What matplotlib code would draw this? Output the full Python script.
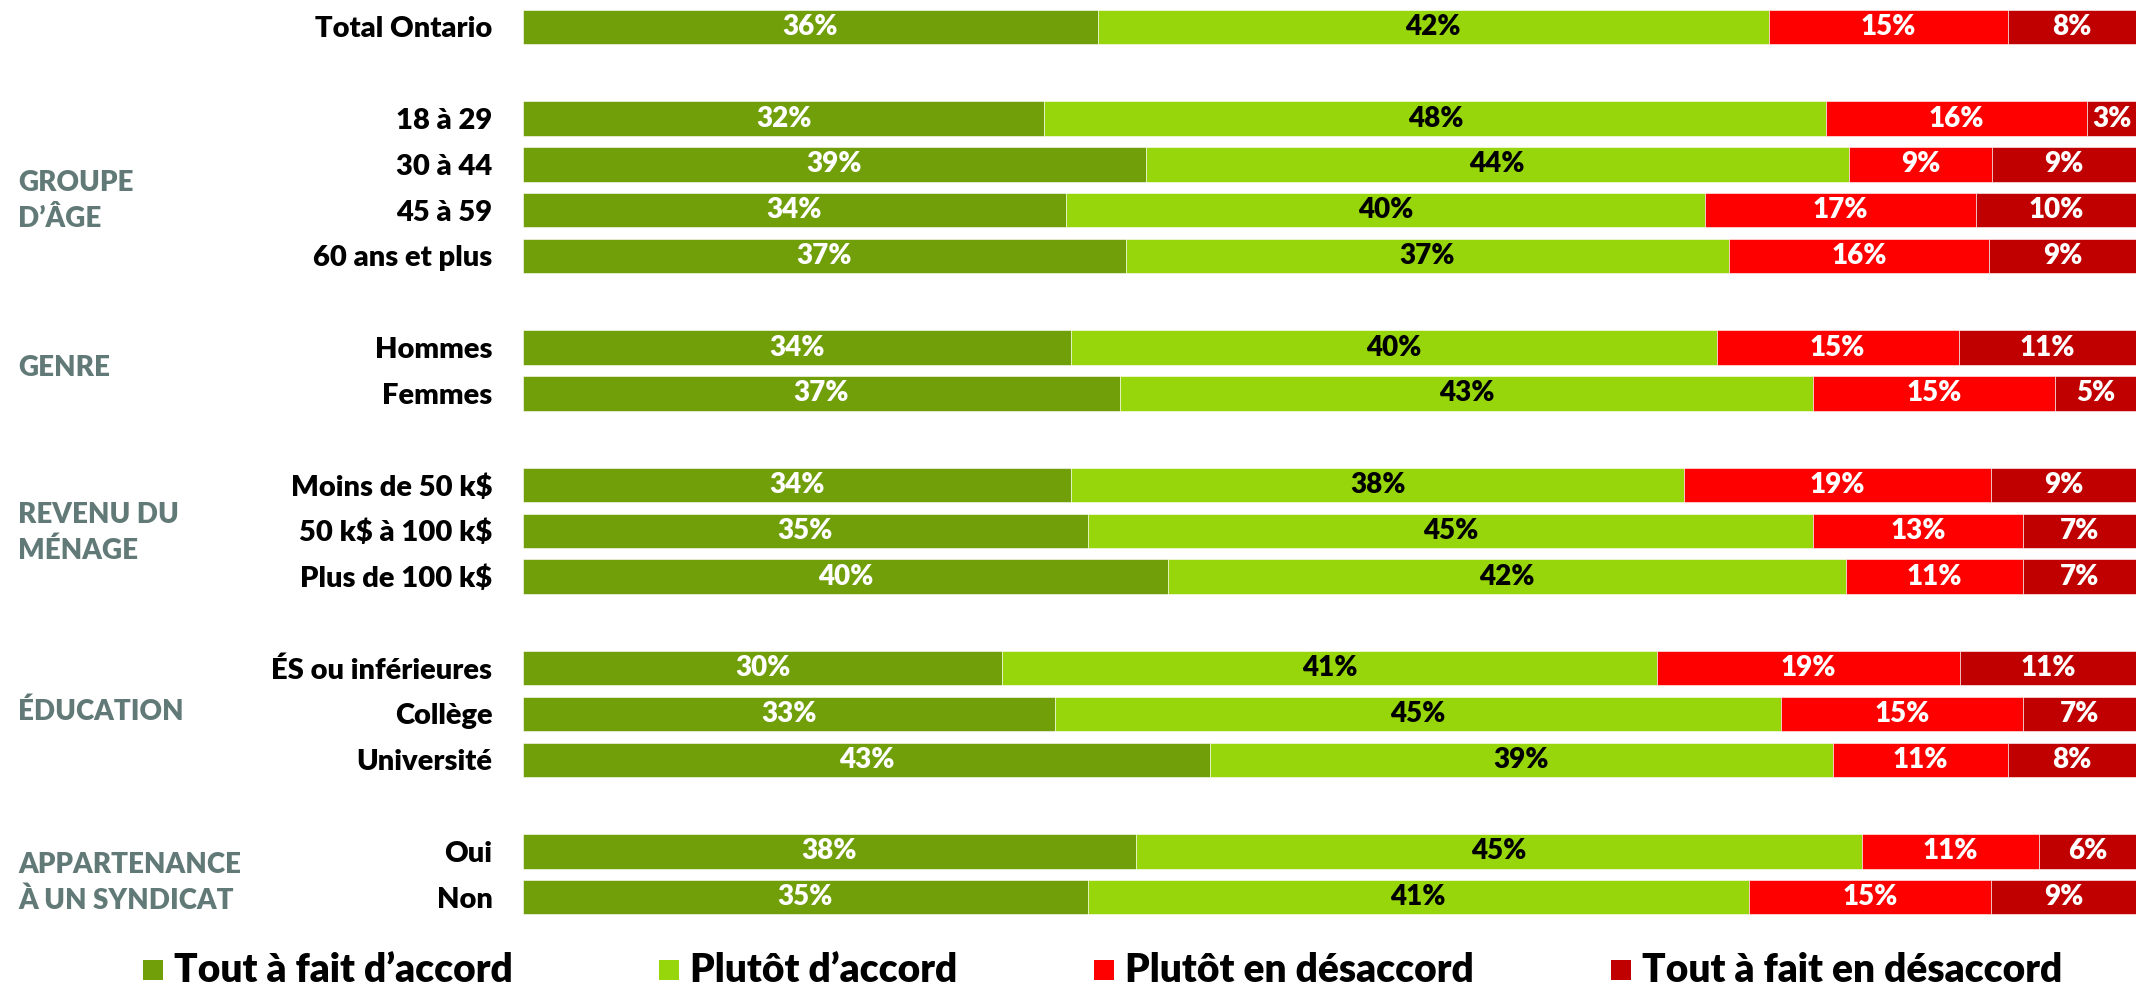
import numpy as np
import matplotlib.pyplot as plt
from matplotlib.patches import Rectangle
from matplotlib.transforms import blended_transform_factory

plt.rcParams['font.family'] = ['Lato', 'DejaVu Sans']
plt.rcParams['font.weight'] = 'heavy'
plt.rcParams['text.parse_math'] = False

# --- data ---
row_labels = ['Total Ontario',
              '18 à 29', '30 à 44', '45 à 59', '60 ans et plus',
              'Hommes', 'Femmes',
              'Moins de 50 k$', '50 k$ à 100 k$', 'Plus de 100 k$',
              'ÉS ou inférieures', 'Collège', 'Université',
              'Oui', 'Non']
group_sizes = [1, 4, 2, 3, 3, 2]
group_names = ['', 'GROUPE\nD’ÂGE', 'GENRE', 'REVENU DU\nMÉNAGE', 'ÉDUCATION',
               'APPARTENANCE\nÀ UN SYNDICAT']

tout_accord = [36, 32, 39, 34, 37, 34, 37, 34, 35, 40, 30, 33, 43, 38, 35]
plutot_accord = [42, 48, 44, 40, 37, 40, 43, 38, 45, 42, 41, 45, 39, 45, 41]
plutot_desaccord = [15, 16, 9, 17, 16, 15, 15, 19, 13, 11, 19, 15, 11, 11, 15]
tout_desaccord = [8, 3, 9, 10, 9, 11, 5, 9, 7, 7, 11, 7, 8, 6, 9]

series_names = ['Tout à fait d’accord', 'Plutôt d’accord',
                'Plutôt en désaccord', 'Tout à fait en désaccord']
colors = ['#709F0A', '#97D60A', '#FF0000', '#C00000']
text_colors = ['white', 'black', 'white', 'white']

vals = np.array([tout_accord, plutot_accord, plutot_desaccord, tout_desaccord], float)
shares = vals / vals.sum(axis=0) * 100

# row positions: one empty row between groups
ypos = []
y = 0
for size in group_sizes:
    ypos.extend(range(y, y + size))
    y += size + 1
ypos = np.array(ypos)

fig = plt.figure(figsize=(21.36, 9.86), dpi=100)
ax = fig.add_axes([523 / 2136, 0.0669, 1 - 523 / 2136, 0.929])

left = np.zeros(len(row_labels))
for k in range(4):
    ax.barh(ypos, shares[k], left=left, height=0.75, color=colors[k],
            edgecolor='white', linewidth=0.4)
    for yy, l, w, v in zip(ypos, left, shares[k], vals[k]):
        ax.text(l + w / 2, yy, f'{int(v)}%', ha='center', va='center',
                color=text_colors[k], fontsize=20)
    left += shares[k]

ax.set_xlim(0, 100)
ax.set_ylim(ypos.max() + 0.5, -0.5)
ax.set_yticks(ypos)
ax.set_yticklabels(row_labels, fontsize=21)
ax.tick_params(axis='y', length=0, pad=22)
ax.set_xticks([])
for s in ax.spines.values():
    s.set_visible(False)

# group titles on the left
trans = blended_transform_factory(fig.transFigure, ax.transData)
group_y = [None, 3.8, 7.45, 11.05, 14.95, 18.7]
for name, gy in zip(group_names, group_y):
    if gy is None:
        continue
    ax.text(18 / 2136, gy, name, transform=trans,
            ha='left', va='center', color='#627A77', fontsize=20,
            linespacing=1.45, clip_on=False)

# legend
sq_x = [143, 659, 1094, 1611]
for x0, c, name in zip(sq_x, colors, series_names):
    fig.patches.append(Rectangle((x0 / 2136, 6 / 986), 20 / 2136, 20 / 986,
                                 transform=fig.transFigure,
                                 facecolor=c, edgecolor='none'))
    fig.text((x0 + 31) / 2136, 16 / 986, name, ha='left', va='center',
             fontsize=28, color='black')

fig.savefig('out.png', dpi=100)
